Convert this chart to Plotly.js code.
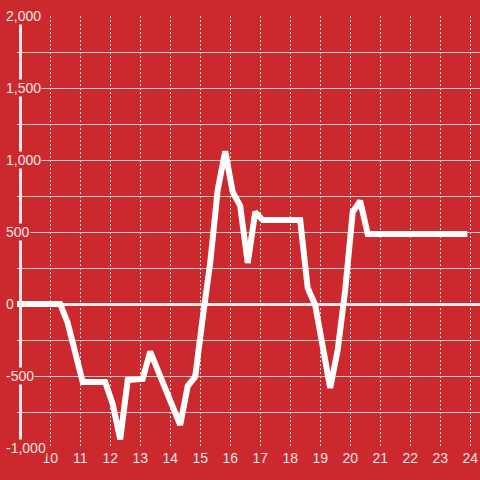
<!DOCTYPE html>
<html>
<head>
<meta charset="utf-8">
<script src="https://cdn.plot.ly/plotly-3.0.1.min.js"></script>
<style>
html,body{margin:0;padding:0;background:#cc292e;}
#chart{width:480px;height:480px;}
</style>
</head>
<body>
<div id="chart"></div>
<script>
var hours = [8.89, 10.33, 10.58, 11.08, 11.83, 12.08, 12.33, 12.58, 13.08, 13.33, 13.58, 13.83, 14.08, 14.33, 14.58, 14.83, 15.08, 15.33, 15.58, 15.83, 16.08, 16.33, 16.58, 16.83, 17.08, 18.33, 18.58, 18.83, 19.33, 19.58, 19.83, 20.08, 20.33, 20.58, 23.9];
var values = [0, 0, -132, -542, -542, -694, -940, -528, -520, -330, -460, -590, -694, -840, -570, -505, -97, 285, 792, 1060, 778, 681, 285, 639, 583, 583, 111, -7, -583, -320, 97, 639, 715, 486, 486];
var yTickValues = [2000, 1500, 1000, 500, 0, -500, -1000];
var yTickLabels = ['2,000', '1,500', '1,000', '500', '0', '-500', '-1,000'];
var xTickValues = [10, 11, 12, 13, 14, 15, 16, 17, 18, 19, 20, 21, 22, 23, 24];

var bg = '#cc292e';
var txt = '#f5e4e4';
var font = {family: 'Liberation Sans, Arial, sans-serif', size: 14, color: txt};

var plotW = 463;
var annotations = yTickValues.map(function(v, i){
  return {
    xref: 'paper', yref: 'y', x: (5 - 17) / plotW, y: v,
    xanchor: 'left', yanchor: 'middle', showarrow: false,
    text: yTickLabels[i], font: font, bgcolor: bg, borderpad: 0
  };
});

var layout = {
  width: 480, height: 480,
  margin: {l: 17, r: 0, t: 16, b: 32, pad: 0},
  paper_bgcolor: bg, plot_bgcolor: bg,
  showlegend: false,
  font: font,
  xaxis: {
    range: [8.89, 8.89 + plotW / 30],
    tickvals: xTickValues, ticktext: xTickValues.map(String),
    showgrid: true, gridcolor: '#ead8d8', gridwidth: 1, griddash: '2px,2px',
    zeroline: false, showline: false, ticks: '',
    tickfont: font, fixedrange: true
  },
  yaxis: {
    range: [-1000, 2000], dtick: 250, tick0: 0,
    showticklabels: false, ticks: '',
    showgrid: true, gridcolor: '#d2c8c8', gridwidth: 1,
    zeroline: true, zerolinecolor: '#f0eaea', zerolinewidth: 3,
    showline: false, fixedrange: true
  },
  shapes: [{
    type: 'line', xref: 'paper', yref: 'paper',
    x0: 3.5 / plotW, x1: 3.5 / plotW, y0: 0, y1: 1,
    line: {color: '#f0eaea', width: 3}
  }],
  annotations: annotations
};

var trace = {
  type: 'scatter', mode: 'lines',
  x: hours, y: values,
  line: {color: '#ffffff', width: 6},
  hoverinfo: 'none'
};

Plotly.newPlot('chart', [trace], layout, {displayModeBar: false, staticPlot: true});
</script>
</body>
</html>
